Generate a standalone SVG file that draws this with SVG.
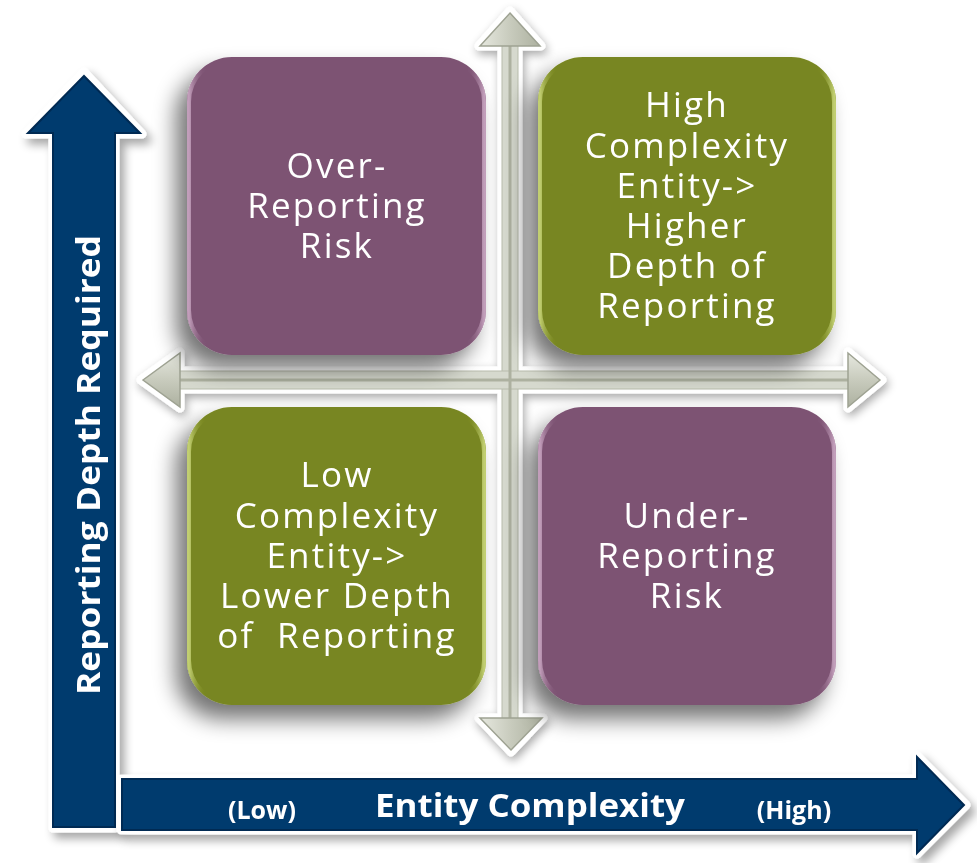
<svg xmlns="http://www.w3.org/2000/svg" width="977" height="863" viewBox="0 0 977 863">
  <defs>
    <filter id="boxShadow" x="-20%" y="-20%" width="140%" height="150%">
      <feGaussianBlur in="SourceAlpha" stdDeviation="11"/>
      <feOffset dx="-11" dy="14" result="b"/>
      <feComponentTransfer><feFuncA type="linear" slope="0.55"/></feComponentTransfer>
      <feMerge><feMergeNode/><feMergeNode in="SourceGraphic"/></feMerge>
    </filter>
    <filter id="axisShadow" x="-20%" y="-20%" width="140%" height="140%">
      <feGaussianBlur in="SourceAlpha" stdDeviation="5"/>
      <feOffset dx="5" dy="6" result="b"/>
      <feComponentTransfer><feFuncA type="linear" slope="0.35"/></feComponentTransfer>
      <feMerge><feMergeNode/><feMergeNode in="SourceGraphic"/></feMerge>
    </filter>
    <filter id="crossShadow" x="-20%" y="-20%" width="140%" height="140%">
      <feGaussianBlur in="SourceAlpha" stdDeviation="5"/>
      <feOffset dx="2" dy="4" result="b"/>
      <feComponentTransfer><feFuncA type="linear" slope="0.35"/></feComponentTransfer>
      <feMerge><feMergeNode/><feMergeNode in="SourceGraphic"/></feMerge>
    </filter>
    <linearGradient id="purpleEdge" x1="0" y1="0" x2="1" y2="0">
      <stop offset="0" stop-color="#c9a6c2"/>
      <stop offset="0.06" stop-color="#7d5373" stop-opacity="0"/>
      <stop offset="0.94" stop-color="#7d5373" stop-opacity="0"/>
      <stop offset="1" stop-color="#c9a6c2"/>
    </linearGradient>
    <linearGradient id="greenEdge" x1="0" y1="0" x2="1" y2="0">
      <stop offset="0" stop-color="#c9d67a"/>
      <stop offset="0.06" stop-color="#788620" stop-opacity="0"/>
      <stop offset="0.94" stop-color="#788620" stop-opacity="0"/>
      <stop offset="1" stop-color="#c9d67a"/>
    </linearGradient>
    <linearGradient id="headV" x1="0" y1="0" x2="1" y2="0">
      <stop offset="0" stop-color="#e6e8df"/>
      <stop offset="0.5" stop-color="#c8cbbd"/>
      <stop offset="1" stop-color="#adb1a0"/>
    </linearGradient>
    <linearGradient id="headH" x1="0" y1="0" x2="0" y2="1">
      <stop offset="0" stop-color="#e6e8df"/>
      <stop offset="0.5" stop-color="#c8cbbd"/>
      <stop offset="1" stop-color="#adb1a0"/>
    </linearGradient>
  </defs>
  <style>
    .box-purple { fill: #7d5373; }
    .box-green { fill: #788620; }
    .gloss { fill: none; stroke-width: 4; opacity: 0.9; }
    .label { font-family: "Open Sans", "Liberation Sans", sans-serif; font-size: 35px; fill: #ffffff; text-anchor: middle; letter-spacing: 2.2px; }
    .axis-out { fill: #ffffff; stroke: #ffffff; stroke-width: 9; stroke-linejoin: round; }
    .axis-in { fill: #053a6e; stroke: #022a52; stroke-width: 2; stroke-linejoin: miter; }
    .axis-text { font-family: "Open Sans", "Liberation Sans", sans-serif; font-weight: bold; fill: #ffffff; }
    .cross-out { fill: #ffffff; stroke: #ffffff; stroke-width: 9; stroke-linejoin: round; }
    .cross-shaft { fill: #d6d9ce; stroke: #b8bcac; stroke-width: 1; }
    .cross-core { stroke: #adb1a0; stroke-width: 3; }
  </style>

  <rect width="977" height="863" fill="#ffffff"/>

  <!-- quadrant divider: four-way gray arrow -->
  <g id="quadrant-cross" filter="url(#crossShadow)">
    <path class="cross-out" d="M510,11 L541,46 L518,46 L518,371 L848,371 L848,352 L882,380 L848,408 L848,389 L518,389 L518,718 L543,718 L511,752 L479,718 L502,718 L502,389 L180,389 L180,408 L141,380 L180,352 L180,371 L502,371 L502,46 L479,46 Z"/>
    <rect class="cross-shaft" x="502" y="44" width="16" height="676"/>
    <rect class="cross-shaft" x="178" y="371" width="672" height="18"/>
    <line class="cross-core" x1="510" y1="46" x2="510" y2="718"/>
    <line class="cross-core" x1="180" y1="380" x2="848" y2="380"/>
    <polygon points="510,13 540,46 480,46" fill="url(#headV)" stroke="#9ea292" stroke-width="1.5"/>
    <polygon points="511,750 542,718 480,718" fill="url(#headV)" stroke="#9ea292" stroke-width="1.5"/>
    <polygon points="143,380 180,353 180,407" fill="url(#headH)" stroke="#9ea292" stroke-width="1.5"/>
    <polygon points="880,380 848,353 848,407" fill="url(#headH)" stroke="#9ea292" stroke-width="1.5"/>
  </g>

  <!-- quadrant boxes -->
  <g id="over-reporting" filter="url(#boxShadow)">
    <rect class="box-purple" x="187" y="57" width="299" height="298" rx="45"/>
    <rect class="gloss" x="189" y="59" width="295" height="294" rx="43" stroke="url(#purpleEdge)"/>
    <text class="label"><tspan x="337" y="178">Over-</tspan><tspan x="337" y="218">Reporting</tspan><tspan x="337" y="258">Risk</tspan></text>
  </g>
  <g id="high-complexity" filter="url(#boxShadow)">
    <rect class="box-green" x="538" y="57" width="298" height="298" rx="45"/>
    <rect class="gloss" x="540" y="59" width="294" height="294" rx="43" stroke="url(#greenEdge)"/>
    <text class="label"><tspan x="687" y="117">High</tspan><tspan x="687" y="158">Complexity</tspan><tspan x="687" y="198">Entity-&gt;</tspan><tspan x="687" y="238">Higher</tspan><tspan x="687" y="278">Depth of</tspan><tspan x="687" y="318">Reporting</tspan></text>
  </g>
  <g id="low-complexity" filter="url(#boxShadow)">
    <rect class="box-green" x="187" y="407" width="299" height="298" rx="45"/>
    <rect class="gloss" x="189" y="409" width="295" height="294" rx="43" stroke="url(#greenEdge)"/>
    <text class="label" xml:space="preserve"><tspan x="337" y="487">Low</tspan><tspan x="337" y="528">Complexity</tspan><tspan x="337" y="568">Entity-&gt;</tspan><tspan x="337" y="608">Lower Depth</tspan><tspan x="337" y="648">of  Reporting</tspan></text>
  </g>
  <g id="under-reporting" filter="url(#boxShadow)">
    <rect class="box-purple" x="538" y="407" width="298" height="298" rx="45"/>
    <rect class="gloss" x="540" y="409" width="294" height="294" rx="43" stroke="url(#purpleEdge)"/>
    <text class="label"><tspan x="687" y="528">Under-</tspan><tspan x="687" y="568">Reporting</tspan><tspan x="687" y="608">Risk</tspan></text>
  </g>

  <!-- main axes -->
  <g id="axis-depth" filter="url(#axisShadow)">
    <polygon class="axis-out" points="84,72 142,134 115,134 115,828 53,828 53,134 26,134"/>
    <polygon class="axis-in" points="84,76 140,133 115,133 115,827 53,827 53,133 28,133"/>
    <text class="axis-text" font-size="33" text-anchor="middle" transform="translate(100,465) rotate(-90)" textLength="460" lengthAdjust="spacingAndGlyphs">Reporting Depth Required</text>
  </g>
  <g id="axis-complexity" filter="url(#axisShadow)">
    <polygon class="axis-out" points="121,779 917,779 917,756 966,805 917,854 917,830 121,830"/>
    <polygon class="axis-in" points="122,779 917,779 917,757 964,805 917,853 917,830 122,830"/>
    <text class="axis-text" font-size="33" x="530" y="817" text-anchor="middle" textLength="310" lengthAdjust="spacingAndGlyphs">Entity Complexity</text>
    <text class="axis-text" font-size="25" x="262" y="819" text-anchor="middle">(Low)</text>
    <text class="axis-text" font-size="25" x="794" y="819" text-anchor="middle">(High)</text>
  </g>
</svg>
